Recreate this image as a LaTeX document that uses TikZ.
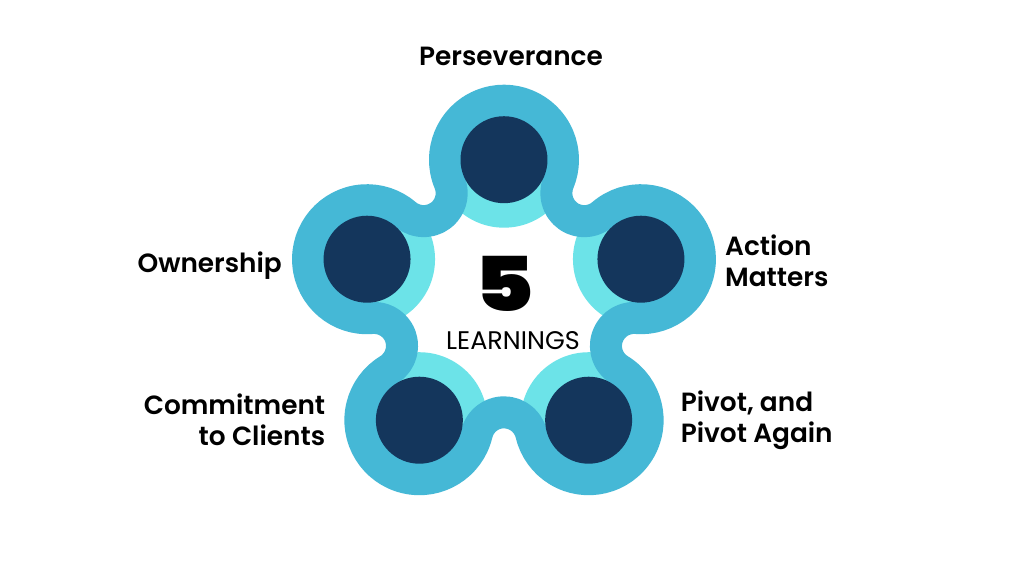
\documentclass[tikz,border=0pt]{standalone}
\usepackage{fontspec}
\setmainfont{Poppins}[BoldFont = {Poppins SemiBold}]
\newfontfamily\heavyfont{Poppins Black}
\usetikzlibrary{positioning}
\definecolor{navy}{HTML}{14365C}
\definecolor{ringblue}{HTML}{45B8D6}
\definecolor{paleteal}{HTML}{6CE3E8}
\tikzstyle{halo} = [circle, fill = paleteal, minimum size = 2.72cm, inner sep = 0]
\tikzstyle{learning} = [circle, fill = navy, minimum size = 1.74cm, inner sep = 0]
\tikzstyle{caption} = [font = \fontsize{15}{17.6}\selectfont\bfseries, inner sep = 0, text = black]

\begin{document}
\begin{tikzpicture}[x = 0.02cm, y = 0.02cm]
\fill [white] (-504,-272.3) rectangle (520,303.7);
\useasboundingbox (-504,-272.3) rectangle (520,303.7);

\node (persevHalo) [halo] at (90:144) {};
\node (actionHalo) [halo] at (18:144) {};
\node (pivotHalo) [halo] at (-54:144) {};
\node (commitHalo) [halo] at (-126:144) {};
\node (ownerHalo) [halo] at (162:144) {};

% wavy ring round the five circles
\draw [ringblue, line width = 0.64cm, line join = round] (persevHalo.center) ++(202.63:59)
  foreach \a in {90,18,-54,-126,-198} {
    arc [start angle = \a+112.63, end angle = \a-112.63, radius = 59]
    arc [start angle = \a+67.37, end angle = \a+220.63, radius = 28]
  } -- cycle;

\node (persev) [learning] at (persevHalo) {};
\node (action) [learning] at (actionHalo) {};
\node (pivot) [learning] at (pivotHalo) {};
\node (commit) [learning] at (commitHalo) {};
\node (owner) [learning] at (ownerHalo) {};

\node (five) [inner sep = 0] at (0,20) {\fontsize{43}{43}\selectfont\heavyfont\scalebox{1.2}[1]{5}};
\node (learn) [below = 0.38cm of five, xshift = 0.18cm, inner sep = 0, font = \fontsize{14.5}{14.5}\selectfont] {LEARNINGS};

\node (persevText) [caption, above = 1cm of persev, xshift = 0.14cm] {Perseverance};
\node (ownerText) [caption, left = 0.82cm of owner, yshift = -0.12cm] {Ownership};
\node (actionText) [caption, right = 0.8cm of action, yshift = -0.04cm, align = left] {Action\\Matters};
\node (commitText) [caption, left = 1cm of commit, align = right] {Commitment\\to Clients};
\node (pivotText) [caption, right = 0.96cm of pivot, align = left] {Pivot, and\\Pivot Again};
\end{tikzpicture}
\end{document}
